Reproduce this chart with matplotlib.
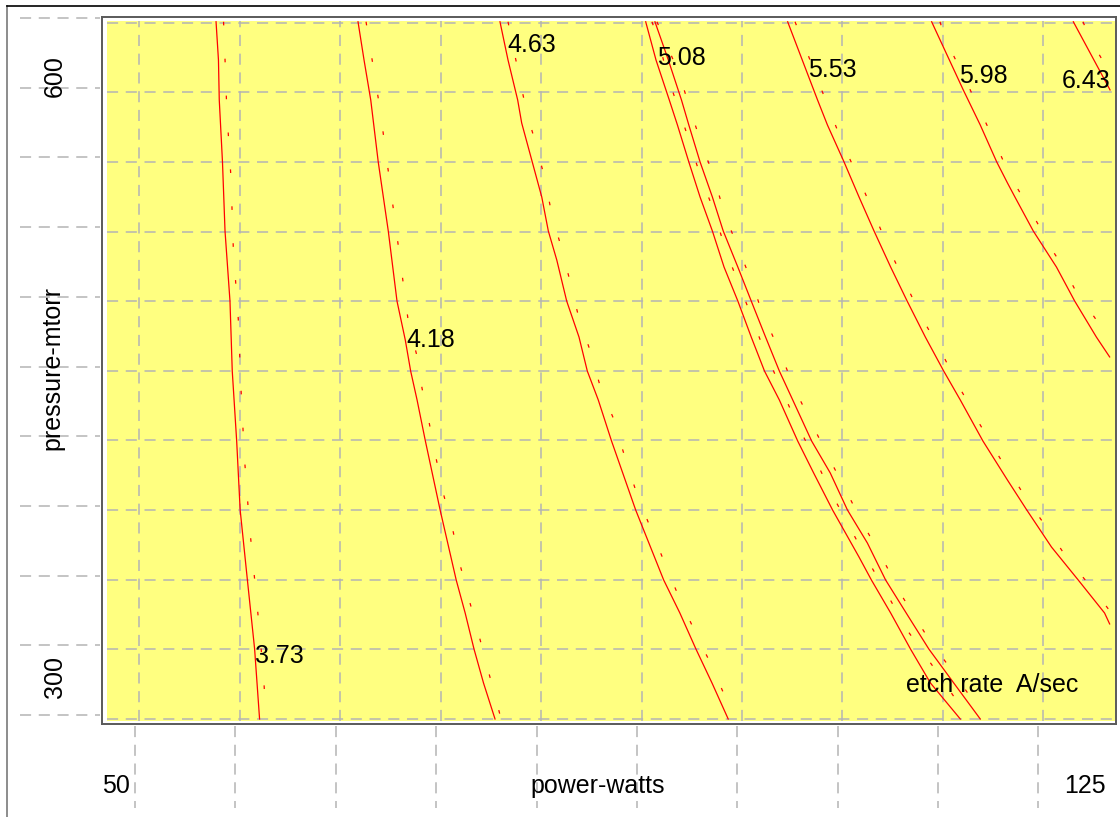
import matplotlib
matplotlib.use('Agg')
import matplotlib.pyplot as plt
import matplotlib.transforms as mtransforms

plt.rcParams['font.family'] = ['Liberation Sans', 'DejaVu Sans']
plt.rcParams['lines.scale_dashes'] = False

# ---------------- data (power in watts, pressure in mtorr) ----------------
x_grid = [50, 57.5, 65, 72.5, 80, 87.5, 95, 102.5, 110, 117.5]
y_grid = [262.5, 300, 337.5, 375, 412.5, 450, 487.5, 525, 562.5, 600, 637.5]

x_tick_labels = ['50', '125']
y_tick_labels = ['600', '300']

# solid contour lines
c373_power = [55.73, 55.91, 55.97, 56.21, 56.40, 56.77, 56.94, 57.27, 57.53, 58.07, 58.61, 58.98]
c373_pressure = [638.0, 617.4, 595.9, 562.5, 525.3, 487.6, 449.9, 412.2, 375.1, 337.4, 300.2, 262.5]

c418_power = [66.33, 66.78, 67.28, 67.84, 68.59, 69.24, 69.86, 70.26, 70.74, 71.36, 72.46, 73.66, 74.33, 74.99, 75.70, 76.56]
c418_pressure = [638.0, 617.4, 595.9, 562.5, 525.3, 487.6, 466.6, 449.9, 434.3, 412.2, 375.1, 337.4, 319.6, 300.2, 281.9, 262.5]

c463_power = [76.93, 77.53, 78.25, 78.55, 79.34, 80.05, 80.54, 81.17, 81.91, 82.83, 83.45, 84.27, 85.26, 87.06, 89.15, 90.36, 91.56, 92.76, 93.97]
c463_pressure = [638.0, 617.4, 595.9, 583.5, 562.5, 543.6, 525.3, 509.7, 487.6, 468.2, 449.9, 434.3, 412.2, 375.1, 337.4, 319.6, 300.2, 281.9, 262.5]

c508a_power = [87.81, 88.58, 89.57, 90.18, 91.03, 91.87, 92.79, 93.66, 94.69, 95.69, 96.68, 97.79, 99.16, 100.35, 101.76, 103.74, 104.66, 106.10, 107.58, 109.07, 111.30]
c508a_pressure = [638.0, 617.4, 595.9, 582.4, 562.5, 543.6, 525.3, 505.9, 487.6, 468.2, 449.9, 434.3, 412.2, 395.0, 375.1, 349.7, 337.4, 319.6, 300.2, 281.9, 262.5]

c508b_power = [88.50, 89.50, 90.48, 91.03, 91.87, 92.79, 93.60, 94.69, 95.69, 96.76, 97.79, 98.79, 100.20, 101.59, 102.87, 104.36, 105.72, 107.45, 108.95, 110.81, 112.79]
c508b_pressure = [638.0, 617.4, 595.9, 582.4, 562.5, 543.6, 525.3, 505.9, 487.6, 468.2, 449.9, 434.3, 412.2, 395.0, 375.1, 357.3, 337.4, 317.4, 300.2, 281.9, 262.5]

c553_power = [98.41, 99.50, 100.64, 101.38, 102.62, 103.74, 104.86, 106.10, 107.33, 108.69, 110.06, 111.30, 112.99, 114.82, 116.26, 118.11, 120.10, 122.07, 122.45]
c553_pressure = [638.0, 617.4, 595.9, 582.4, 562.5, 543.6, 525.3, 505.9, 487.6, 468.2, 449.9, 434.3, 412.2, 391.2, 375.1, 355.1, 337.4, 319.6, 313.7]

c598_power = [109.16, 111.52, 112.79, 114.02, 114.82, 115.38, 116.75, 118.48, 119.84, 121.46, 122.45]
c598_pressure = [638.0, 601.3, 582.4, 562.5, 551.2, 543.6, 525.3, 505.9, 487.6, 468.2, 457.5]

c643_power = [119.74, 122.48]
c643_pressure = [638.0, 601.3]

# dotted companion lines
d373_power = [56.29, 56.35, 56.53, 56.85, 57.02, 57.39, 57.59, 57.85, 58.24, 58.74, 59.27, 59.46]
d373_pressure = [638.0, 628.2, 591.0, 553.3, 515.6, 477.9, 440.8, 403.1, 365.4, 328.2, 286.7, 262.5]

d418_power = [66.93, 67.97, 68.67, 69.37, 70.06, 70.76, 71.11, 71.65, 72.16, 72.70, 73.37, 73.91, 74.63, 75.30, 75.97, 76.69, 77.01]
d418_pressure = [638.0, 591.0, 553.3, 515.6, 477.9, 457.1, 440.6, 421.8, 402.9, 384.0, 365.7, 346.7, 326.6, 309.2, 290.7, 271.5, 262.5]

d463_power = [77.53, 78.87, 79.60, 80.29, 80.79, 81.49, 82.21, 82.83, 83.73, 84.45, 85.40, 86.28, 87.14, 88.15, 89.01, 90.30, 91.51, 92.71, 93.92, 94.48]
d463_pressure = [638.0, 590.9, 572.2, 553.3, 534.5, 516.9, 496.9, 478.1, 459.5, 440.6, 424.4, 402.9, 384.0, 365.7, 350.4, 328.0, 309.2, 291.6, 271.5, 262.5]

d508a_power = [88.28, 88.75, 89.50, 90.28, 91.13, 91.97, 92.86, 93.75, 94.75, 95.78, 96.48, 97.92, 99.08, 100.82, 101.68, 103.05, 104.09, 105.97, 107.33, 109.27, 111.00, 111.72]
d508a_pressure = [638.0, 628.2, 607.3, 590.9, 572.2, 553.3, 537.0, 515.6, 496.9, 478.1, 464.3, 440.6, 421.8, 397.0, 384.0, 365.7, 351.7, 328.0, 310.4, 290.7, 272.7, 262.5]

d508b_power = [88.65, 90.32, 91.13, 91.97, 92.86, 93.70, 94.75, 95.78, 96.48, 97.87, 98.91, 100.10, 101.51, 102.87, 103.92, 105.65, 107.01, 108.72, 110.46, 112.54, 113.07]
d508b_pressure = [638.0, 609.7, 590.9, 572.2, 555.5, 534.3, 515.6, 496.9, 481.9, 459.5, 440.6, 423.2, 402.9, 384.0, 369.1, 346.7, 328.0, 308.1, 290.7, 269.5, 262.5]

d553_power = [98.96, 99.50, 100.75, 101.51, 102.53, 103.74, 104.93, 105.98, 107.21, 108.57, 109.93, 111.17, 111.87, 112.71, 114.27, 115.31, 116.18, 117.74, 118.91, 119.97, 121.71, 122.85]
d553_pressure = [638.0, 628.2, 604.9, 590.9, 572.2, 553.3, 533.4, 515.6, 496.9, 476.9, 459.5, 441.8, 433.1, 421.8, 402.9, 391.8, 381.7, 365.7, 353.0, 343.1, 328.0, 316.9]

d598_power = [109.78, 110.23, 112.02, 112.73, 113.95, 114.97, 115.68, 116.70, 118.12, 119.10, 119.83, 121.39, 122.57]
d598_pressure = [638.0, 628.2, 601.6, 590.9, 572.2, 555.5, 546.9, 534.3, 515.6, 504.3, 494.2, 478.1, 463.0]

d643_power = [120.46, 121.03, 122.42]
d643_pressure = [638.0, 628.2, 611.1]

# contour labels
label_text = ['3.73', '4.18', '4.63', '5.08', '5.53', '5.98', '6.43']
label_power = [58.66, 69.97, 77.45, 88.68, 99.95, 111.22, 118.87]
label_pressure = [292.7, 462.8, 621.7, 614.7, 608.3, 605.0, 602.3]

solid_lines = [(c373_power, c373_pressure), (c418_power, c418_pressure),
               (c463_power, c463_pressure), (c508a_power, c508a_pressure),
               (c508b_power, c508b_pressure), (c553_power, c553_pressure),
               (c598_power, c598_pressure), (c643_power, c643_pressure)]
dotted_lines = [(d373_power, d373_pressure), (d418_power, d418_pressure),
                (d463_power, d463_pressure), (d508a_power, d508a_pressure),
                (d508b_power, d508b_pressure), (d553_power, d553_pressure),
                (d598_power, d598_pressure), (d643_power, d643_pressure)]

# ---------------- figure ----------------
W, H = 1120, 817
fig = plt.figure(figsize=(W / 100, H / 100), dpi=100)
fig.patch.set_facecolor('white')


def fx(px):
    return px / W


def fy(py):
    return 1 - py / H


grid_kw = dict(color='#b4b4b4', lw=1.1, linestyle=(0, (8, 5.5)))
FS = 18

# outer frame lines of the figure
fig.add_artist(plt.Line2D([fx(7), fx(7)], [fy(6), 0], color='#8c8c8c', lw=1.4))
fig.add_artist(plt.Line2D([fx(7), 1], [fy(6), fy(6)], color='black', lw=1.2))

# outer (framing) axes
ax_out = fig.add_axes([fx(102), fy(724), fx(1116) - fx(102), fy(17) - fy(724)])
ax_out.set_xlim(47.534, 123.30)
ax_out.set_ylim(257.66, 638.04)
ax_out.set_xticks([])
ax_out.set_yticks([])
ax_out.set_facecolor('white')
for s in ax_out.spines.values():
    s.set_color('#5a5a5a')
    s.set_linewidth(1.4)

# grid lines outside the frame
tr_v = mtransforms.blended_transform_factory(ax_out.transData, fig.transFigure)
for xv in x_grid:
    fig.add_artist(plt.Line2D([xv, xv], [fy(726), fy(808)], transform=tr_v, **grid_kw))
tr_h = mtransforms.blended_transform_factory(fig.transFigure, ax_out.transData)
for yv in y_grid:
    fig.add_artist(plt.Line2D([fx(20), fx(100)], [yv, yv], transform=tr_h, **grid_kw))

# inner yellow panel
ax = fig.add_axes([fx(107), fy(721), fx(1115) - fx(107), fy(21) - fy(721)])
ax.set_facecolor('#ffff80')
ax.set_xlim(47.588, 122.85)
ax.set_ylim(261.43, 638.42)
ax.set_xticks([])
ax.set_yticks([])
for s in ax.spines.values():
    s.set_visible(False)
for xv in x_grid:
    ax.axvline(xv, zorder=1, **grid_kw)
for yv in y_grid:
    ax.axhline(yv, zorder=1, **grid_kw)

for xs, ys in solid_lines:
    ax.plot(xs, ys, color='#ff0000', lw=0.9, zorder=3)
for xs, ys in dotted_lines:
    ax.plot(xs, ys, color='#ff0000', lw=0.9, linestyle=(0, (2.6, 24)), zorder=3)

for t, xv, yv in zip(label_text, label_power, label_pressure):
    ax.text(xv, yv, t, fontsize=FS, ha='left', va='baseline', color='black', zorder=4)

ax.text(fx(906), fy(692), 'etch rate  A/sec', transform=fig.transFigure,
        fontsize=FS, ha='left', va='baseline', zorder=5)

# axis labels
fig.text(fx(116), fy(793), x_tick_labels[0], fontsize=FS, ha='center', va='baseline')
fig.text(fx(1085), fy(793), x_tick_labels[1], fontsize=FS, ha='center', va='baseline')
fig.text(fx(598), fy(793), 'power-watts', fontsize=FS, ha='center', va='baseline')
fig.text(fx(62), fy(76), y_tick_labels[0], fontsize=FS, ha='center', va='baseline',
         rotation=90, rotation_mode='anchor')
fig.text(fx(62), fy(677), y_tick_labels[1], fontsize=FS, ha='center', va='baseline',
         rotation=90, rotation_mode='anchor')
fig.text(fx(59), fy(368), 'pressure-mtorr', fontsize=FS, ha='center', va='baseline',
         rotation=90, rotation_mode='anchor')

fig.savefig('out.png', dpi=100, facecolor='white')
